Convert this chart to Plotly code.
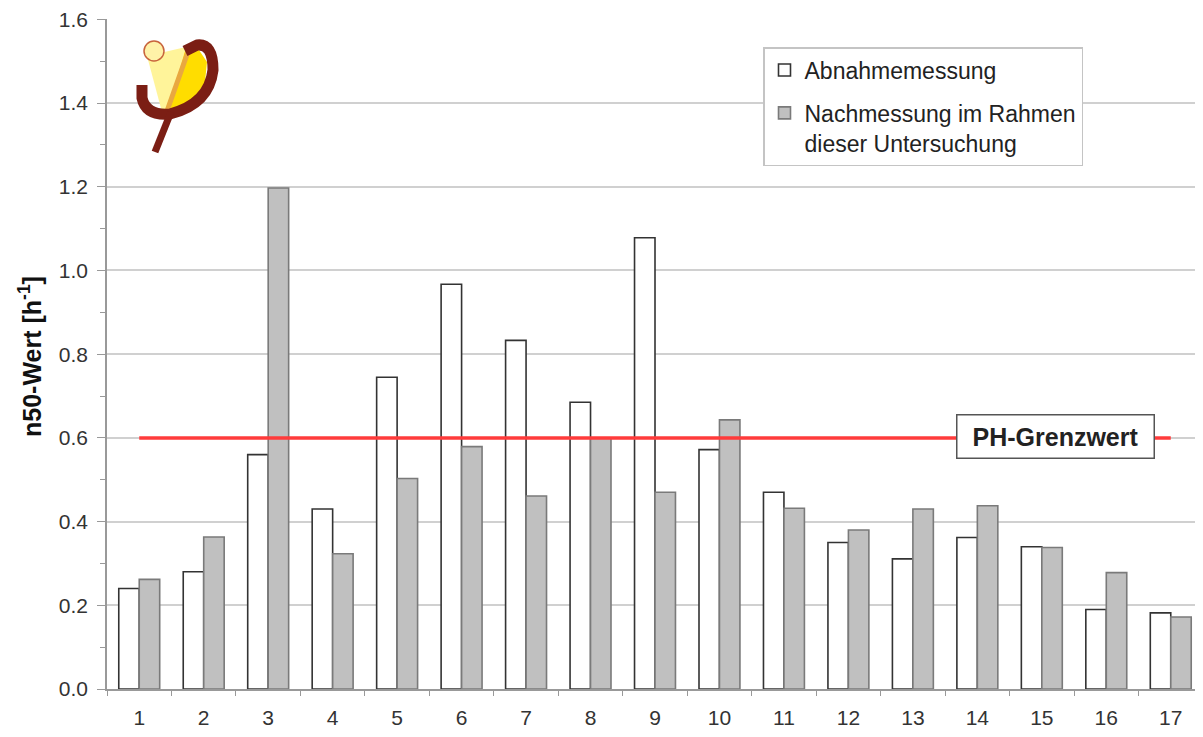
import plotly.graph_objects as go

# ---- data ----
categories = [str(i) for i in range(1, 18)]
abnahme = [0.24, 0.28, 0.56, 0.43, 0.745, 0.967, 0.833, 0.685, 1.078, 0.572,
           0.47, 0.35, 0.311, 0.362, 0.34, 0.19, 0.182]
nachmessung = [0.262, 0.363, 1.197, 0.323, 0.503, 0.579, 0.461, 0.6, 0.47, 0.643,
               0.432, 0.38, 0.43, 0.438, 0.338, 0.278, 0.172]
grenzwert = 0.6
y_ticks = [0.0, 0.2, 0.4, 0.6, 0.8, 1.0, 1.2, 1.4, 1.6]

FONT = "Liberation Sans, Arial, sans-serif"
W, H = 1203, 737
OFF = 8  # page body margin offset
# plot area in screenshot pixels: x 107..1203, y 19..689
L = 107 - OFF
T = 19 - OFF
R = W - (1203 - OFF)
B = H - (689 - OFF)
PW, PH = W - L - R, H - T - B


def px(x):
    return (x - OFF - L) / PW


def py(y):
    return (H - B - (y - OFF)) / PH


def path(cmds):
    out = []
    for c in cmds:
        if isinstance(c, str):
            out.append(c)
        else:
            out.append(f"{px(c[0]):.5f},{py(c[1]):.5f}")
    return " ".join(out)


fig = go.Figure()
fig.add_trace(go.Bar(
    x=categories, y=abnahme, name="Abnahmemessung",
    marker=dict(color="white", line=dict(color="#333333", width=1.6)),
    legendgroup="a",
))
fig.add_trace(go.Bar(
    x=categories, y=nachmessung, name="Nachmessung im Rahmen<br>dieser Untersuchung",
    marker=dict(color="#C0C0C0", line=dict(color="#7a7a7a", width=1.6)),
    legendgroup="b",
))
fig.add_trace(go.Scatter(
    x=categories, y=[grenzwert] * len(categories), mode="lines",
    line=dict(color="#FF3B3B", width=3.5), showlegend=False, hoverinfo="skip",
))

# logo shapes (decorative)
shapes = []
shapes.append(dict(type="path", xref="paper", yref="paper",
                   path=path(["M", (147, 56), "L", (186, 47), "L", (168, 111), "L", (162, 112), "Z"]),
                   fillcolor="#FFF49A", line=dict(width=0), layer="above"))
shapes.append(dict(type="path", xref="paper", yref="paper",
                   path=path(["M", (186, 47), "L", (199, 50), "L", (207, 62), "L", (205, 82),
                              "L", (195, 98), "L", (178, 108), "L", (168, 111), "Z"]),
                   fillcolor="#FFDD00", line=dict(width=0), layer="above"))
shapes.append(dict(type="path", xref="paper", yref="paper",
                   path=path(["M", (189, 49), "L", (167, 111)]),
                   line=dict(color="#E9A840", width=5), layer="above"))
shapes.append(dict(type="path", xref="paper", yref="paper",
                   path=path(["M", (142, 85), "L", (142, 98), "Q", (146, 116), (170, 114),
                              "Q", (209, 104), (213, 70), "Q", (213, 43), (197, 45),
                              "L", (185, 51)]),
                   line=dict(color="#7B1E14", width=11), layer="above"))
shapes.append(dict(type="path", xref="paper", yref="paper",
                   path=path(["M", (171, 112), "L", (155, 152)]),
                   line=dict(color="#7B1E14", width=7), layer="above"))
shapes.append(dict(type="circle", xref="paper", yref="paper",
                   x0=px(144), x1=px(164), y0=py(61), y1=py(41),
                   fillcolor="#FFF2A8", line=dict(color="#C8643C", width=1.5), layer="above"))

fig.update_layout(
    width=W, height=H,
    margin=dict(l=L, r=R, t=T, b=B, autoexpand=False),
    paper_bgcolor="white", plot_bgcolor="white",
    font=dict(family=FONT, size=21, color="#333333"),
    barmode="group", bargap=0.365, bargroupgap=0,
    showlegend=True,
    legend=dict(
        x=px(763), y=py(47), xanchor="left", yanchor="top",
        bgcolor="white", bordercolor="#C4C4C4", borderwidth=1.5,
        font=dict(family=FONT, size=23, color="#222222"),
        traceorder="grouped", tracegroupgap=10, valign="top",
    ),
    xaxis=dict(
        type="category", range=[-0.5, 16.5], tickson="boundaries",
        ticks="outside", ticklen=5, tickcolor="#999999",
        showline=True, linecolor="#999999", linewidth=1.5,
        showgrid=False, tickfont=dict(size=21, color="#333333"),
        ticklabelstandoff=9, automargin=False,
    ),
    yaxis=dict(
        range=[0, 1.6008], tickvals=y_ticks, tickformat=".1f",
        ticks="outside", ticklen=8, tickcolor="#999999",
        minor=dict(dtick=0.1, ticks="outside", ticklen=5, tickcolor="#999999", showgrid=False),
        showline=True, linecolor="#999999", linewidth=1.5,
        showgrid=True, gridcolor="#D0D0D0", gridwidth=1.5,
        zeroline=False, tickfont=dict(size=21, color="#333333"),
        ticklabelstandoff=5, ticklabeloverflow="allow", automargin=False,
    ),
    shapes=shapes,
    annotations=[
        dict(text="<b>n50-Wert [h<sup>-1</sup>]</b>", xref="paper", yref="paper",
             x=px(30), y=py(357), xanchor="center", yanchor="middle",
             textangle=-90, showarrow=False,
             font=dict(family=FONT, size=25, color="#111111")),
        dict(text="<b>PH-Grenzwert</b>", xref="paper", yref="paper",
             x=px(1055), y=py(436), xanchor="center", yanchor="middle",
             showarrow=False, bgcolor="white", bordercolor="#555555", borderwidth=1.5,
             width=192, height=38, borderpad=2,
             font=dict(family=FONT, size=25, color="#222222")),
    ],
)

fig.write_html("out.html")
